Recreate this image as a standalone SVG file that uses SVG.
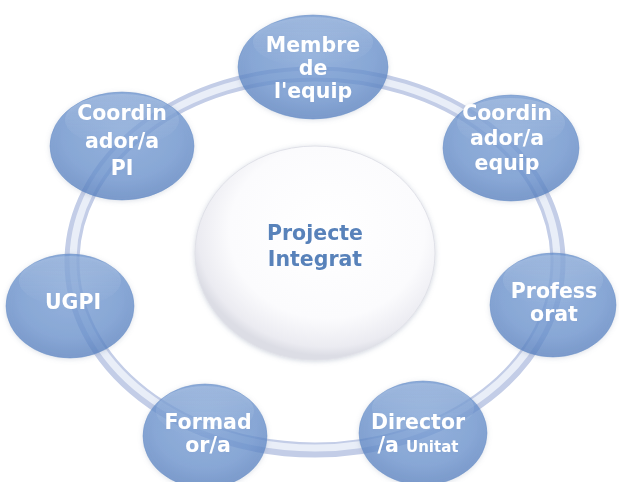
<svg xmlns="http://www.w3.org/2000/svg" width="619" height="482" viewBox="0 0 619 482">
<defs>
<radialGradient id="nodeFill" cx="50%" cy="40%" r="60%">
<stop offset="0" stop-color="#759dd6"/>
<stop offset="0.7" stop-color="#628dcc"/>
<stop offset="1" stop-color="#4e7abd"/>
</radialGradient>
<linearGradient id="gloss" x1="0" y1="0" x2="0" y2="1">
<stop offset="0" stop-color="#ffffff" stop-opacity="0.18"/>
<stop offset="1" stop-color="#ffffff" stop-opacity="0"/>
</linearGradient>
<radialGradient id="centerFill" cx="55%" cy="40%" r="58%">
<stop offset="0" stop-color="#ffffff"/>
<stop offset="0.7" stop-color="#fbfbfd"/>
<stop offset="0.93" stop-color="#ebebf1"/>
<stop offset="1" stop-color="#dcdde5"/>
</radialGradient>
<filter id="soft" x="-20%" y="-20%" width="140%" height="140%">
<feGaussianBlur in="SourceAlpha" stdDeviation="2.5"/>
<feOffset dx="0" dy="1" result="b"/>
<feFlood flood-color="#7a8aa5" flood-opacity="0.35"/>
<feComposite in2="b" operator="in"/>
<feMerge><feMergeNode/><feMergeNode in="SourceGraphic"/></feMerge>
</filter>
<style>
.node ellipse.body{fill:url(#nodeFill);fill-opacity:0.7;stroke:#6a90c8;stroke-opacity:0.5;stroke-width:1}
.node ellipse.gl{fill:url(#gloss)}
.lbl{font-family:"DejaVu Sans",Verdana,sans-serif;font-weight:bold;font-size:20.5px;fill:#ffffff;text-anchor:middle}
.clbl{font-family:"DejaVu Sans",Verdana,sans-serif;font-weight:bold;font-size:20.5px;fill:#5882ba;text-anchor:middle}
.ring{fill:none;stroke:#c3cde7;stroke-width:15}
.ringhl{fill:none;stroke:#e9eef8;stroke-width:7}
</style>
</defs>
<rect width="619" height="482" fill="#ffffff"/>
<g id="connectors">
<ellipse class="ring" cx="315" cy="262" rx="243" ry="188"/>
<ellipse class="ringhl" cx="315" cy="261" rx="242" ry="187"/>
</g>
<g id="center" filter="url(#soft)">
<ellipse cx="315" cy="253" rx="120" ry="107" fill="url(#centerFill)" stroke="#e0e1e8" stroke-width="1"/>
<text class="clbl" x="315" y="240">Projecte</text>
<text class="clbl" x="315" y="266">Integrat</text>
</g>
<g id="node-membre" class="node" filter="url(#soft)">
<ellipse class="body" cx="313" cy="67" rx="75" ry="52"/>
<ellipse class="gl" cx="313" cy="42" rx="60" ry="25"/>
<text class="lbl" x="313" y="52">Membre</text>
<text class="lbl" x="313" y="75">de</text>
<text class="lbl" x="313" y="98">l'equip</text>
</g>
<g id="node-coord-equip" class="node" filter="url(#soft)">
<ellipse class="body" cx="511" cy="148" rx="68" ry="53"/>
<ellipse class="gl" cx="511" cy="123" rx="54" ry="25"/>
<text class="lbl" x="507" y="120">Coordin</text>
<text class="lbl" x="507" y="145">ador/a</text>
<text class="lbl" x="507" y="170">equip</text>
</g>
<g id="node-professorat" class="node" filter="url(#soft)">
<ellipse class="body" cx="553" cy="305" rx="63" ry="52"/>
<ellipse class="gl" cx="553" cy="280" rx="50" ry="25"/>
<text class="lbl" x="554" y="298">Profess</text>
<text class="lbl" x="554" y="321">orat</text>
</g>
<g id="node-director" class="node" filter="url(#soft)">
<ellipse class="body" cx="423" cy="433" rx="64" ry="52"/>
<ellipse class="gl" cx="423" cy="408" rx="51" ry="25"/>
<text class="lbl" x="418" y="429">Director</text>
<text class="lbl" x="418" y="452">/a <tspan font-size="15">Unitat</tspan></text>
</g>
<g id="node-formador" class="node" filter="url(#soft)">
<ellipse class="body" cx="205" cy="436" rx="62" ry="52"/>
<ellipse class="gl" cx="205" cy="411" rx="49" ry="25"/>
<text class="lbl" x="208" y="429">Formad</text>
<text class="lbl" x="208" y="452">or/a</text>
</g>
<g id="node-ugpi" class="node" filter="url(#soft)">
<ellipse class="body" cx="70" cy="306" rx="64" ry="52"/>
<ellipse class="gl" cx="70" cy="281" rx="51" ry="25"/>
<text class="lbl" x="73" y="309">UGPI</text>
</g>
<g id="node-coord-pi" class="node" filter="url(#soft)">
<ellipse class="body" cx="122" cy="146" rx="72" ry="54"/>
<ellipse class="gl" cx="122" cy="120" rx="57" ry="26"/>
<text class="lbl" x="122" y="120">Coordin</text>
<text class="lbl" x="122" y="148">ador/a</text>
<text class="lbl" x="122" y="175">PI</text>
</g>
</svg>
